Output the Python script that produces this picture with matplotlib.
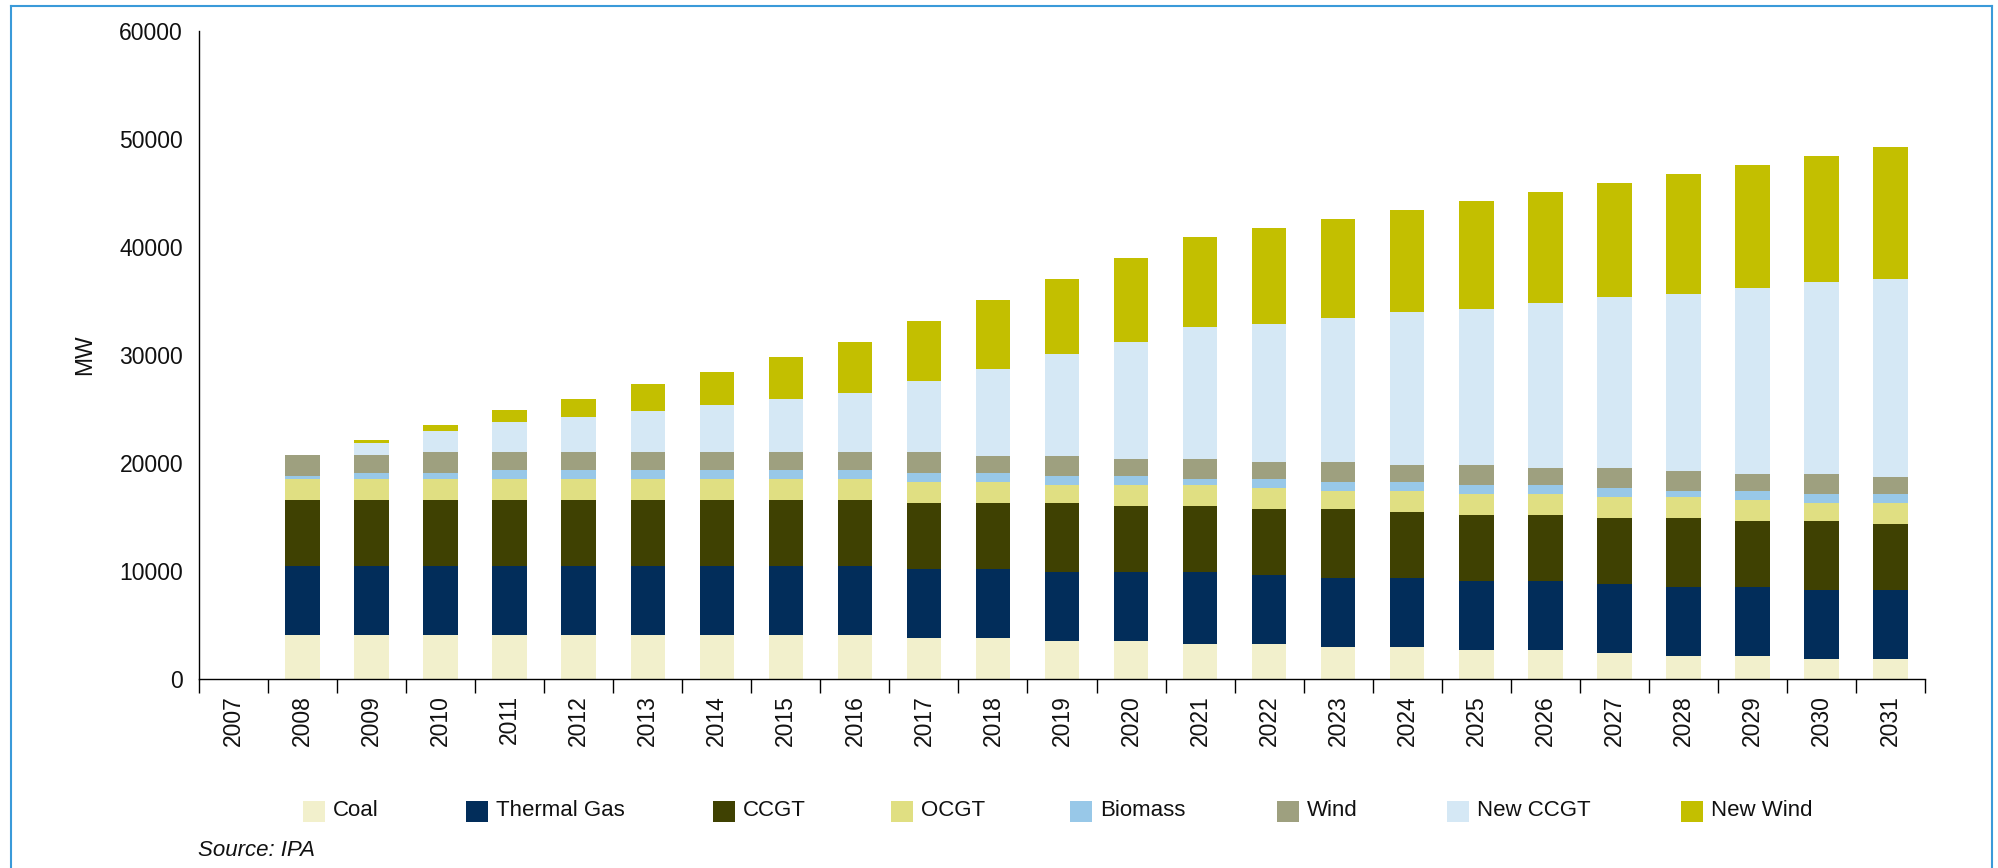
import numpy as np
import matplotlib
matplotlib.use("Agg")
import matplotlib.pyplot as plt
from matplotlib.patches import Rectangle
from matplotlib.lines import Line2D

plt.rcParams['font.family'] = ['Liberation Sans', 'DejaVu Sans']

# ---------------- data ----------------
years = [str(y) for y in range(2007, 2032)]

coal = [0] + [4070] * 9 + [3800, 3800, 3520, 3520, 3230, 3230, 2950, 2950,
                            2680, 2680, 2400, 2150, 2150, 1870, 1870]
thermal_gas = [0] + [6420] * 9 + [6390, 6390, 6390, 6390, 6660, 6380, 6390, 6390,
                                  6380, 6380, 6390, 6380, 6380, 6400, 6400]
ccgt = [0] + [6080] * 9 + [6110, 6110, 6390, 6110, 6130, 6130, 6420, 6140,
                           6130, 6130, 6140, 6400, 6110, 6370, 6110]
ocgt = [0] + [1950] * 9 + [1940, 1940, 1660, 1940, 1940, 1950, 1660, 1940,
                           1980, 1980, 1940, 1940, 1940, 1680, 1940]
biomass = [0, 280, 550, 550] + [830] * 6 + [830, 830, 840, 840, 560, 830, 830, 840,
                                            800, 800, 850, 550, 840, 850, 850]
wind = [0, 1940, 1670, 1950] + [1670] * 6 + [1950, 1580, 1850, 1570, 1850, 1570, 1850,
                                             1580, 1870, 1580, 1830, 1870, 1580, 1830, 1570]
new_ccgt = [0, 0, 1110, 1940, 2780, 3240, 3790, 4350, 4910, 5460, 6570, 8050, 9440,
            10830, 12220, 12780, 13350, 14160, 14420, 15300, 15850, 16360, 17240,
            17790, 18300]
new_wind = [0, 0, 280, 560, 1100, 1670, 2500, 3060, 3880, 4720, 5560, 6390, 6950,
            7780, 8340, 8890, 9150, 9450, 10030, 10250, 10540, 11130, 11380, 11640,
            12230]

series_names = ['Coal', 'Thermal Gas', 'CCGT', 'OCGT', 'Biomass', 'Wind',
                'New CCGT', 'New Wind']
series_values = [coal, thermal_gas, ccgt, ocgt, biomass, wind, new_ccgt, new_wind]
colors = ['#F2F0CC', '#022D5A', '#3F4102', '#E0DF82', '#98C8E8', '#9EA07F',
          '#D5E8F5', '#C3BF00']
y_ticks = [0, 10000, 20000, 30000, 40000, 50000, 60000]

# ---------------- figure ----------------
W, H = 1999, 868
fig = plt.figure(figsize=(W / 100, H / 100), dpi=100)
ax = fig.add_axes([199 / W, 189 / H, (1925 - 199) / W, (679 - 31) / H])

x = np.arange(len(years))
bottom = np.zeros(len(years))
for name, vals, col in zip(series_names, series_values, colors):
    vals = np.array(vals, dtype=float)
    ax.bar(x, vals, 0.5, bottom=bottom, color=col, linewidth=0, label=name)
    bottom += vals

ax.set_xlim(-0.5, len(years) - 0.5)
ax.set_ylim(0, 60000)
ax.set_yticks(y_ticks)
ax.set_yticklabels([str(v) for v in y_ticks])
ax.tick_params(axis='y', length=0, pad=11.5, labelsize=16.5, colors='#111111')

ax.set_xticks(x)
ax.set_xticklabels(years, rotation=90)
ax.tick_params(axis='x', which='major', length=0, pad=11.5, labelsize=16.5,
               colors='#111111')
ax.set_xticks(np.arange(-0.5, len(years)), minor=True)
ax.tick_params(axis='x', which='minor', length=10, width=1.0, direction='out',
               color='black')

for s in ['top', 'right']:
    ax.spines[s].set_visible(False)
for s in ['left', 'bottom']:
    ax.spines[s].set_linewidth(1.0)
    ax.spines[s].set_color('black')

# y label
fig.text(85 / W, 1 - 355 / H, 'MW', rotation=90, ha='center', va='center',
         fontsize=16.5, color='#111111')

# legend (manual placement)
legend_x = [303, 466, 713, 891, 1070, 1277, 1447, 1681]
for name, col, px in zip(series_names, colors, legend_x):
    fig.add_artist(Rectangle((px / W, 46 / H), 22 / W, 21 / H,
                             transform=fig.transFigure, facecolor=col,
                             edgecolor='none'))
    fig.text((px + 30) / W, 1 - 811 / H, name, ha='left', va='center',
             fontsize=16, color='#111111')

# source
fig.text(198 / W, 1 - 850 / H, 'Source: IPA', style='italic', ha='left',
         va='center', fontsize=16, color='#111111')

# border frame
bc = '#3A9AD9'
fig.add_artist(Line2D([10.5 / W, 10.5 / W], [0, 1 - 6 / H], transform=fig.transFigure,
                      color=bc, lw=1.5))
fig.add_artist(Line2D([10.5 / W, 1992 / W], [1 - 6 / H, 1 - 6 / H],
                      transform=fig.transFigure, color=bc, lw=1.5))
fig.add_artist(Line2D([1992 / W, 1992 / W], [0, 1 - 6 / H], transform=fig.transFigure,
                      color=bc, lw=1.5))

fig.savefig('out.png', dpi=100, facecolor='white')
